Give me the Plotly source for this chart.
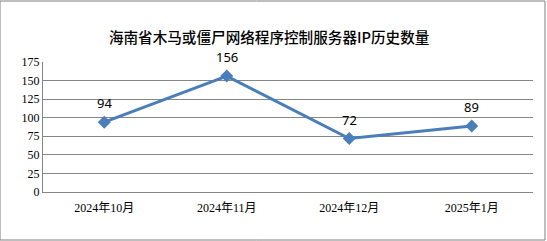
import plotly.graph_objects as go

categories = ["2024年10月", "2024年11月", "2024年12月", "2025年1月"]
values = [94, 156, 72, 89]
y_ticks = [0, 25, 50, 75, 100, 125, 150, 175]
title_text = "海南省木马或僵尸网络程序控制服务器IP历史数量"

fig = go.Figure()
fig.add_trace(go.Scatter(
    x=categories, y=values, mode="lines+markers",
    line=dict(color="#4A7EBB", width=3),
    marker=dict(symbol="diamond", size=10, color="#4A7EBB"),
    cliponaxis=False,
))
for c, v in zip(categories, values):
    fig.add_annotation(x=c, y=v, text=str(v), showarrow=False,
                       yanchor="middle", yshift=19,
                       font=dict(family="Noto Sans, Noto Sans CJK SC", size=13, color="#000000"))

fig.update_layout(
    width=547, height=241,
    margin=dict(l=43, r=14, t=62, b=49),
    paper_bgcolor="white", plot_bgcolor="white",
    showlegend=False,
    title=dict(text=title_text, x=0.492, xanchor="center", y=0.842, yanchor="middle",
               font=dict(family="Noto Sans CJK SC", size=14.6, color="#000000", weight=500)),
    shapes=[dict(type="rect", xref="paper", yref="paper",
                 x0=-43/490, x1=(490+12)/490, y0=-48/130, y1=(130+61)/130,
                 line=dict(color="#7F7F7F", width=1))],
)
fig.update_xaxes(
    type="category", range=[-0.5, 3.5],
    showline=True, linecolor="#868686", linewidth=1,
    showgrid=False, ticks="", ticklabelstandoff=5,
    tickfont=dict(family="Liberation Serif, Noto Sans CJK SC", size=12, color="#000000"),
)
fig.update_yaxes(
    range=[0, 175], tickvals=y_ticks,
    showline=True, linecolor="#868686", linewidth=1,
    showgrid=True, gridcolor="#868686", gridwidth=1,
    ticks="", zeroline=False,
    tickfont=dict(family="Liberation Serif", size=12, color="#000000"),
)

fig.write_html("out.html")
